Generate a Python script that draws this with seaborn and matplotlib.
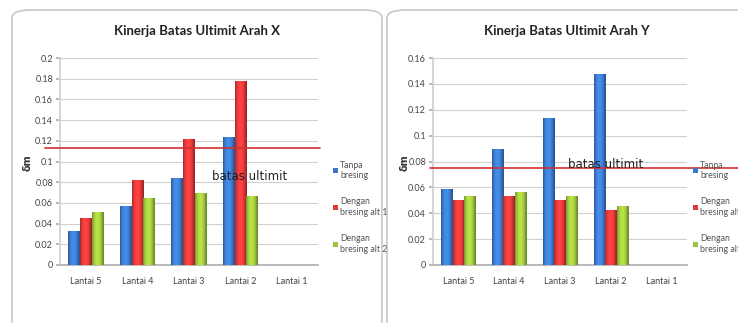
import numpy as np
import pandas as pd
import matplotlib
matplotlib.use("Agg")
import matplotlib.pyplot as plt
from matplotlib.patches import FancyBboxPatch, Patch
from matplotlib.colors import to_rgb
import seaborn as sns

# Storey labels and series names
lantai = ["Lantai 5", "Lantai 4", "Lantai 3", "Lantai 2", "Lantai 1"]
series = ["Tanpa bresing", "Dengan bresing alt 1", "Dengan bresing alt 2"]
legend_labels = ["Tanpa\nbresing", "Dengan\nbresing alt 1", "Dengan\nbresing alt 2"]

# Drift ratio (δm) per storey, X direction
x_tanpa = [0.032, 0.057, 0.084, 0.123, np.nan]
x_alt1 = [0.045, 0.082, 0.121, 0.177, np.nan]
x_alt2 = [0.051, 0.064, 0.069, 0.066, np.nan]
batas_x = 0.113

# Drift ratio (δm) per storey, Y direction
y_tanpa = [0.058, 0.089, 0.113, 0.147, np.nan]
y_alt1 = [0.050, 0.053, 0.050, 0.042, np.nan]
y_alt2 = [0.053, 0.056, 0.053, 0.045, np.nan]
batas_y = 0.075

colors = ["#3b78c9", "#dc3838", "#9cc43c"]

sns.set_theme(style="white")
plt.rcParams["font.family"] = ["Lato", "DejaVu Sans"]

W, H = 738, 323
fig = plt.figure(figsize=(W / 100, H / 100), dpi=100)


def px_axes(x0, x1, y0, y1):
    ax = fig.add_axes([x0 / W, 1 - y1 / H, (x1 - x0) / W, (y1 - y0) / H])
    ax.set_zorder(2)
    ax.patch.set_alpha(0)
    return ax


def frame(x0, x1, y0, y1):
    box = FancyBboxPatch((x0 / W, 1 - y1 / H), (x1 - x0) / W, (y1 - y0) / H,
                         boxstyle="round,pad=0,rounding_size=0.025",
                         transform=fig.transFigure, facecolor="white",
                         edgecolor="#c8c8c8", linewidth=1.2, zorder=-5)
    fig.patches.append(box)


def make_df(a, b, c):
    rows = []
    for name, vals in zip(series, [a, b, c]):
        for lt, v in zip(lantai, vals):
            rows.append({"lantai": lt, "seri": name, "dm": v})
    return pd.DataFrame(rows)


def shade_bars(ax):
    # cylinder-like shading across each bar's width
    t = np.linspace(0, 1, 40)
    prof = 0.72 + 0.45 * np.sin(np.pi * np.clip(t * 1.1, 0, 1)) ** 0.7
    for p in ax.patches:
        h = p.get_height()
        if not np.isfinite(h) or h <= 0:
            continue
        base = np.array(to_rgb(p.get_facecolor()))
        img = np.clip(base[None, :] * prof[:, None], 0, 1)[None, :, :]
        x = p.get_x()
        w = p.get_width()
        ax.imshow(img, extent=[x, x + w, 0, h], aspect="auto",
                  interpolation="bilinear", zorder=3.5)


def panel(ax, df, title, title_x, ymax, batas, line_x, text_x, text_y,
          leg_x, ylab_x):
    sns.barplot(data=df, x="lantai", y="dm", hue="seri", order=lantai,
                hue_order=series, palette=colors, saturation=1, width=0.68,
                ax=ax, edgecolor="none", legend=False, zorder=3)
    shade_bars(ax)
    ax.set_xlim(-0.5, 4.5)
    ax.set_ylim(0, ymax)
    ticks = np.round(np.arange(0, ymax + 1e-9, 0.02), 2)
    ax.set_yticks(ticks)
    ax.set_yticklabels([f"{t:g}" for t in ticks])
    ax.grid(axis="y", color="#d0d0d0", linewidth=0.8, zorder=0)
    ax.set_axisbelow(True)
    for s in ["top", "right"]:
        ax.spines[s].set_visible(False)
    ax.spines["left"].set_color("#d0d0d0")
    ax.spines["bottom"].set_color("#b0b0b0")
    ax.tick_params(axis="y", length=3, color="#b0b0b0", labelsize=6.5,
                   labelcolor="#444444", pad=2, left=True)
    ax.tick_params(axis="x", length=0, labelsize=6.5, labelcolor="#444444", pad=9)
    ax.set_xlabel("")
    ax.set_ylabel("")
    fig.text(title_x / W, 1 - 31 / H, title, fontsize=9.5, fontweight="bold",
             color="#222222", ha="center", va="center")

    # Ultimate limit line and its label
    ax.axhline(batas, xmin=line_x[0], xmax=line_x[1], color="#d03030",
               linewidth=1.2, clip_on=False, zorder=4)
    ax.text(text_x, text_y, "batas ultimit", transform=ax.get_yaxis_transform(),
            fontsize=8.5, family="DejaVu Sans", color="#222222", zorder=5,
            va="center")

    fig.text(ylab_x / W, 1 - 163 / H, "δm", rotation=90, fontsize=7,
             fontweight="bold", color="#333333", ha="center", va="center",
             family="DejaVu Sans")

    handles = [Patch(facecolor=c, edgecolor="none") for c in colors]
    fig.legend(handles, legend_labels, loc="upper left",
               bbox_to_anchor=(leg_x / W, 1 - 157 / H), frameon=False,
               fontsize=6.3, labelcolor="#555555", handlelength=0.6,
               handleheight=0.6, handletextpad=0.3, labelspacing=2.0,
               borderaxespad=0)


frame(12, 382, 10, 340)
frame(387, 760, 10, 340)

ax1 = px_axes(60, 318, 58, 265)
panel(ax1, make_df(x_tanpa, x_alt1, x_alt2), "Kinerja Batas Ultimit Arah X",
      197, 0.2, batas_x, (-0.058, 1.008), 0.59, 0.0855, 329, 28)

ax2 = px_axes(433, 687, 58, 265)
panel(ax2, make_df(y_tanpa, y_alt1, y_alt2), "Kinerja Batas Ultimit Arah Y",
      567, 0.16, batas_y, (-0.012, 1.2), 0.53, 0.078, 689, 405)

fig.savefig("out.png", dpi=100)
